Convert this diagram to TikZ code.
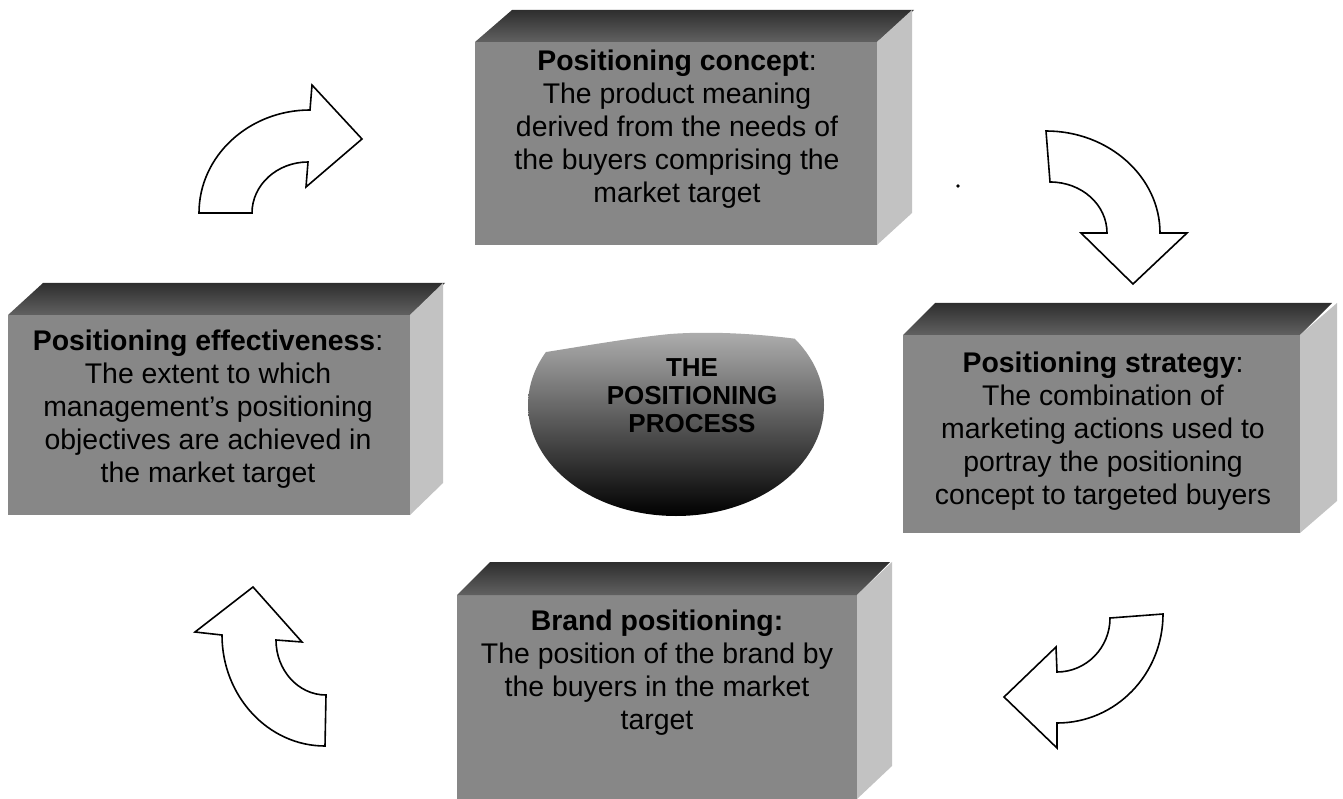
\documentclass[tikz,border=0pt]{standalone}
\usepackage{fontspec}
\setmainfont{Liberation Sans}
\begin{document}
\begin{tikzpicture}[x=1pt,y=-1pt,
  frontface/.style={draw=none, fill=black!47, inner sep=0pt, outer sep=0pt},
  topface/.style={draw=none, top color=black!82, bottom color=black!62},
  sideface/.style={draw=none, fill=black!24},
  boxtext/.style={align=center, font=\fontsize{28.4}{33}\selectfont, inner sep=0pt, anchor=north, text=black},
  centertext/.style={align=center, font=\fontsize{26}{28}\selectfont\bfseries, inner sep=0pt, anchor=north, text=black},
  bendarrow/.style={draw=black, fill=white, line width=1.6pt, line join=miter},
]
\useasboundingbox (0,0) rectangle (1343,799);

% ---------- top box: positioning concept
\node[frontface, minimum width=402pt, minimum height=203pt] (pcf) at (676,143.5) {};
\shade[topface] (pcf.north west) -- ++(37,-32) -- ++(402,0) -- (pcf.north east) -- cycle;
\path[sideface] (pcf.north east) -- ++(35,-32) -- ++(0,203) -- (pcf.south east) -- cycle;
\node[boxtext] (pct) at (677,50) {\textbf{Positioning concept}:\\The product meaning\\derived from the needs of\\the buyers comprising the\\market target};

% ---------- left box: positioning effectiveness
\node[frontface, minimum width=402pt, minimum height=200pt] (pef) at (209,415) {};
\shade[topface] (pef.north west) -- ++(35,-32) -- ++(402,0) -- (pef.north east) -- cycle;
\path[sideface] (pef.north east) -- ++(33,-32) -- ++(0,200) -- (pef.south east) -- cycle;
\node[boxtext] (pet) at (208,330) {\textbf{Positioning effectiveness}:\\The extent to which\\management's positioning\\objectives are achieved in\\the market target};

% ---------- right box: positioning strategy
\node[frontface, minimum width=397pt, minimum height=198pt] (psf) at (1101.5,434) {};
\shade[topface] (psf.north west) -- ++(32,-32) -- ++(397,0) -- (psf.north east) -- cycle;
\path[sideface] (psf.north east) -- ++(37,-32) -- ++(0,198) -- (psf.south east) -- cycle;
\node[boxtext] (pst) at (1103,352) {\textbf{Positioning strategy}:\\The combination of\\marketing actions used to\\portray the positioning\\concept to targeted buyers};

% ---------- bottom box: brand positioning
\node[frontface, minimum width=400pt, minimum height=204pt] (bpf) at (657,697) {};
\shade[topface] (bpf.north west) -- ++(33,-33) -- ++(400,0) -- (bpf.north east) -- cycle;
\path[sideface] (bpf.north east) -- ++(35,-33) -- ++(0,204) -- (bpf.south east) -- cycle;
\node[boxtext] (bpt) at (657,610) {\textbf{Brand positioning:}\\The position of the brand by\\the buyers in the market\\target};

% ---------- centre bowl
\begin{scope}
  \clip (515,380) -- (540,353) .. controls (590,345) and (630,338) .. (670,334)
        .. controls (710,331) and (770,333) .. (835,345) -- (835,530) -- (515,530) -- cycle;
  \shade[top color=black!18, middle color=black!58, bottom color=black] (676,405) ellipse [x radius=148pt, y radius=111pt];
\end{scope}
\node[centertext] (cpt) at (692,358) {THE\\POSITIONING\\PROCESS};

% ---------- curved block arrows
\draw[bendarrow] (199,213) .. controls (199,156) and (249,110) .. (310,110) -- (312,85) -- (362,139) -- (306,187) -- (308,162) .. controls (277,162) and (252,185) .. (252,213) -- cycle;
\draw[bendarrow] (1046,131) .. controls (1109,131) and (1160,177) .. (1160,233) -- (1187,233) -- (1133,284) -- (1081,233) -- (1107,233) .. controls (1107,205) and (1082,182) .. (1050,182) -- cycle;
\draw[bendarrow] (1163,614) -- (1110,618) .. controls (1110,648) and (1086,672) .. (1057,672) -- (1056,647) -- (1004,697) -- (1057,748) -- (1057,723) .. controls (1116,723) and (1163,674) .. (1163,614) -- cycle;
\draw[bendarrow] (325,746) -- (326,695) .. controls (298,695) and (276,670) .. (276,640) -- (302,642) -- (253,587) -- (195,632) -- (222,635) .. controls (222,696) and (268,746) .. (325,746) -- cycle;

% stray dot
\fill (958,186) circle (1.8pt);
\end{tikzpicture}
\end{document}
